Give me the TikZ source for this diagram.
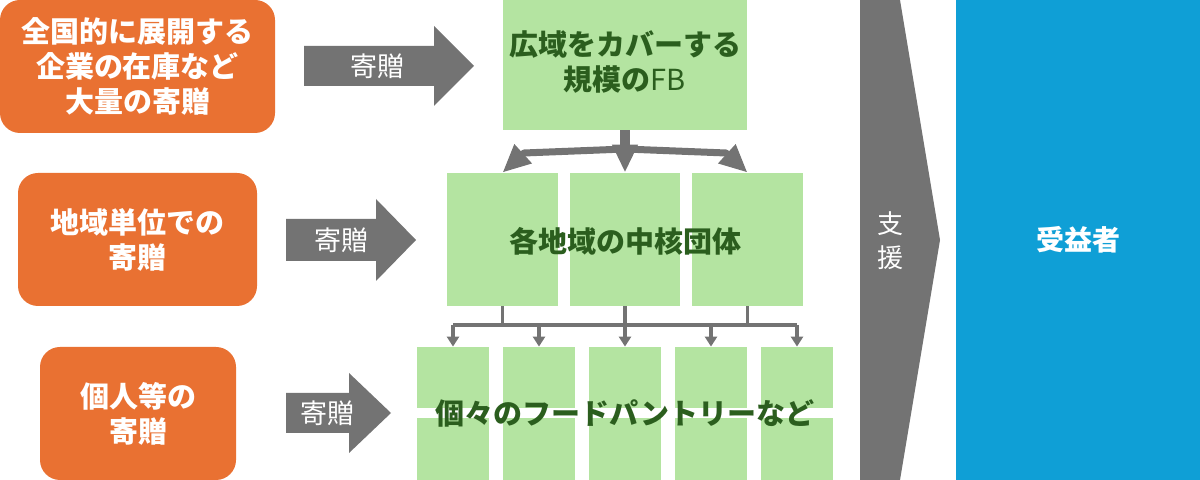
\documentclass[tikz,border=0pt]{standalone}
\usepackage{fontspec}
\setmainfont{Noto Sans CJK JP}
\usetikzlibrary{arrows.meta}
\definecolor{orng}{HTML}{E97132}
\definecolor{gry}{HTML}{737373}
\definecolor{lgreen}{HTML}{B4E4A1}
\definecolor{dgreen}{HTML}{2B5E1E}
\definecolor{blu}{HTML}{0F9FD6}
\tikzset{
  obox/.style={fill=orng, rounded corners=10pt, inner sep=0pt, align=center,
    text=white, font=\fontsize{14.5pt}{17.5pt}\selectfont\bfseries},
  gbox/.style={fill=lgreen, inner sep=0pt},
  gtext/.style={text=dgreen, align=center, inner sep=0pt,
    font=\fontsize{14.5pt}{17.5pt}\selectfont\bfseries},
  garrow/.style={fill=gry},
  alabel/.style={text=white, inner sep=0pt, align=center,
    font=\fontsize{13.5pt}{17pt}\selectfont},
  bigtip/.style={-{Triangle[length=14pt,width=12pt]}},
  smalltip/.style={-{Triangle[length=5pt,width=6pt]}},
  thickconn/.style={draw=gry, line width=3.5pt, line join=round},
  thinconn/.style={draw=gry, line width=1.8pt},
}
\begin{document}
\begin{tikzpicture}[x=0.5pt,y=-0.5pt]
\useasboundingbox (0,0) rectangle (1200,480);

% orange source boxes
\node[obox, minimum width=137.5pt, minimum height=66.5pt] (o1) at (137.5,66.5)
  {全国的に展開する\\企業の在庫など\\大量の寄贈};
\node[obox, minimum width=119.5pt, minimum height=66.5pt] (o2) at (137.5,239.5)
  {地域単位での\\寄贈};
\node[obox, minimum width=98pt, minimum height=66.5pt] (o3) at (138,413.5)
  {個人等の\\寄贈};

% donation arrows
\path[garrow] (304,46) -- (434,46) -- (434,26) -- (474,66) -- (434,106) -- (434,86) -- (304,86) -- cycle;
\node[alabel] (a1) at (377,66) {寄贈};
\path[garrow] (286,219) -- (376,219) -- (376,199) -- (416,240) -- (376,281) -- (376,261) -- (286,261) -- cycle;
\node[alabel] (a2) at (341,240) {寄贈};
\path[garrow] (286,393) -- (349,393) -- (349,373) -- (391,413) -- (349,453) -- (349,433) -- (286,433) -- cycle;
\node[alabel] (a3) at (327,413) {寄贈};

% top green box
\node[gbox, minimum width=122pt, minimum height=65pt] (t) at (625,65) {};
\node[gtext] (tt) at (625,62) {広域をカバーする\\規模の{\mdseries FB}};

% middle boxes
\node[gbox, minimum width=55.5pt, minimum height=66.5pt] (g1) at (502.5,239.5) {};
\node[gbox, minimum width=55pt, minimum height=66.5pt] (g2) at (625,239.5) {};
\node[gbox, minimum width=55.5pt, minimum height=66.5pt] (g3) at (747.5,239.5) {};
\node[gtext] (gt) at (625,241) {各地域の中核団体};

% bottom boxes
\foreach \i/\x in {1/453,2/539,3/625,4/711,5/797}{
  \node[gbox, minimum width=36pt, minimum height=30.5pt] (p\i) at (\x,377.5) {};
  \node[gbox, minimum width=36pt, minimum height=31pt] (q\i) at (\x,449) {};
}
\node[gtext] (pt) at (625,413) {個々のフードパントリーなど};

% top to middle connectors
\coordinate (split) at (625,149);
\coordinate (lk) at (524,153);
\coordinate (rk) at (726,153);
\draw[thickconn, line width=5pt, bigtip] (t.south) -- (g2.north);
\draw[thickconn, bigtip] (split) -- (lk) -- (g1.north);
\draw[thickconn, bigtip] (split) -- (rk) -- (g3.north);

% middle to bottom connectors
\coordinate (bus) at (625,325);
\draw[thinconn] (g1.south) -- (g1.south |- bus);
\draw[thinconn] (g2.south) -- (g2.south |- bus);
\draw[thinconn] (g3.south) -- (g3.south |- bus);
\draw[thinconn] (p1.north |- bus) -- (p5.north |- bus);
\foreach \i in {1,...,5}{
  \draw[thinconn, smalltip] (p\i.north |- bus) -- (p\i.north);
}

% support arrow
\path[garrow] (860,0) -- (900,0) -- (940,240) -- (900,480) -- (860,480) -- cycle;
\node[alabel, font=\fontsize{13pt}{17pt}\selectfont] (sup) at (890,241) {支\\援};

% beneficiaries
\node[fill=blu, minimum width=122pt, minimum height=240pt, inner sep=0pt,
  text=white, font=\fontsize{14pt}{17pt}\selectfont\bfseries] (ben) at (1078,240) {受益者};
\end{tikzpicture}
\end{document}
